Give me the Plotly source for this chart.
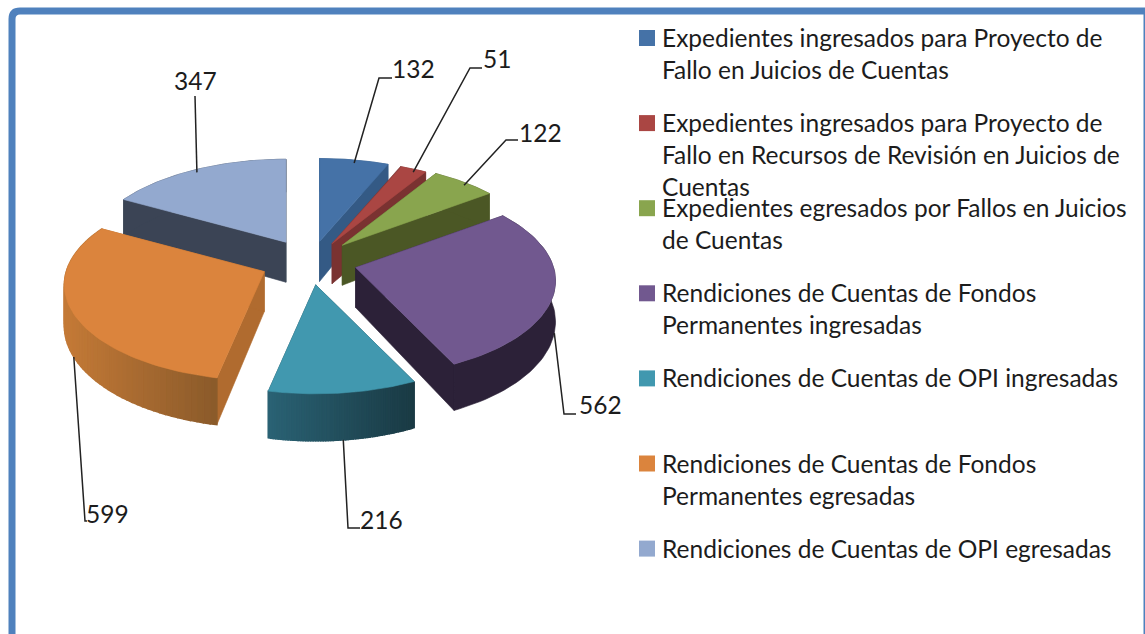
import math
import plotly.graph_objects as go

# ---- data ----
categories = [
    "Expedientes ingresados para Proyecto de<br>Fallo en Juicios de Cuentas",
    "Expedientes ingresados para Proyecto de<br>Fallo en Recursos de Revisión en Juicios de<br>Cuentas",
    "Expedientes egresados por Fallos en Juicios<br>de Cuentas",
    "Rendiciones de Cuentas de Fondos<br>Permanentes ingresadas",
    "Rendiciones de Cuentas de OPI ingresadas",
    "Rendiciones de Cuentas de Fondos<br>Permanentes egresadas",
    "Rendiciones de Cuentas de OPI egresadas",
]
values = [132, 51, 122, 562, 216, 599, 347]

# ---- styles ----
top_colors = ["#4572A7", "#AA4643", "#89A54E", "#71588F", "#4198AF", "#DB843D", "#93A9CF"]
face_colors = ["#345A85", "#7A3231", "#4B5725", "#2C2138", "#1F4653", "#B06B2F", "#3B4455"]
rim_left = ["#345A85", "#7A3231", "#4B5725", "#2C2138", "#2A6274", "#C47A37", "#3B4455"]
rim_right = ["#345A85", "#7A3231", "#4B5725", "#2C2138", "#1A3A44", "#8A5A2A", "#3B4455"]
draw_order = [6, 0, 1, 2, 3, 5, 4]
FONT = "Lato"
TEXT = "#1c1c1c"
CX, CY = 310, 262       # pie centre on the page
EXP_X, EXP_Y = 47, 23   # explosion
apex_nudge = [(0, 2), (0, 2), (0, 0), (0, 0), (0, 0), (-3, 0), (0, 0)]
LEGEND_Y0, LEGEND_STEP, LINE_STEP = 38, 85.1, 32
leader_ends = [
    [(379, 78), (392, 78)], [(470, 68), (482, 68)], [(506, 140), (518, 140)],
    [(564, 414), (576, 414)], [(348, 528), (360, 528)], [(85, 521), (87, 521)],
    [(195, 96)],
]
label_pos = [(413, 68), (497, 58), (540, 132), (600, 404), (381, 519), (107, 513), (195, 80)]

total = sum(values)
starts, ends = [], []
acc = 0.0
for v in values:
    starts.append(acc / total * 2 * math.pi)
    acc += v
    ends.append(acc / total * 2 * math.pi)


def apex(i):
    m = (starts[i] + ends[i]) / 2
    return (CX + EXP_X * math.sin(m) + apex_nudge[i][0],
            CY - EXP_Y * math.cos(m) + apex_nudge[i][1])


def rim(i, t):
    ax, ay = apex(i)
    return (ax + (198 - 28 * math.cos(t)) * math.sin(t),
            ay - (96 - 13 * math.cos(t)) * math.cos(t))


def depth(t):
    return 40 - 7 * math.cos(t)


def arc(i, n=60):
    return [starts[i] + (ends[i] - starts[i]) * k / n for k in range(n + 1)]


def mix(c1, c2, f):
    a = [int(c1[j:j + 2], 16) for j in (1, 3, 5)]
    b = [int(c2[j:j + 2], 16) for j in (1, 3, 5)]
    return "rgb(%d,%d,%d)" % tuple(round(p + (q - p) * f) for p, q in zip(a, b))


fig = go.Figure()


def poly(pts, color, name=None, lw=0.6):
    xs = [p[0] for p in pts] + [pts[0][0]]
    ys = [p[1] for p in pts] + [pts[0][1]]
    fig.add_trace(go.Scatter(x=xs, y=ys, mode="lines", fill="toself", fillcolor=color,
                             line=dict(color=color, width=lw), hoverinfo="skip" if name is None else "text",
                             text=name, showlegend=False))


for i in draw_order:
    ax, ay = apex(i)
    for t in (starts[i], ends[i]):
        rx, ry = rim(i, t)
        poly([(ax, ay), (rx, ry), (rx, ry + depth(t)), (ax, ay + 40)], face_colors[i])
    ts = arc(i)
    if rim_left[i] == rim_right[i]:
        poly([rim(i, t) for t in ts] + [(rim(i, t)[0], rim(i, t)[1] + depth(t)) for t in reversed(ts)],
             rim_left[i])
    else:
        xmin = min(rim(i, t)[0] for t in ts)
        xmax = max(rim(i, t)[0] for t in ts)
        for a, b in zip(ts[:-1], ts[1:]):
            pa, pb = rim(i, a), rim(i, b)
            f = ((pa[0] + pb[0]) / 2 - xmin) / max(xmax - xmin, 1)
            poly([pa, pb, (pb[0], pb[1] + depth(b)), (pa[0], pa[1] + depth(a))],
                 mix(rim_left[i], rim_right[i], f), lw=1.5)
    poly([(ax, ay)] + [rim(i, t) for t in ts], top_colors[i],
         name="%s: %d" % (categories[i].replace("<br>", " "), values[i]))

annotations = []
for i, v in enumerate(values):
    m = (starts[i] + ends[i]) / 2
    x0, y0 = rim(i, m)
    y0 += depth(m) if math.cos(m) < 0 else 3
    pts = [(x0, y0)] + leader_ends[i]
    fig.add_trace(go.Scatter(x=[p[0] for p in pts], y=[p[1] for p in pts], mode="lines",
                             line=dict(color="#222222", width=1.5), hoverinfo="skip", showlegend=False))
    lx, ly = label_pos[i]
    annotations.append(dict(x=lx, y=ly, text=str(v), showarrow=False, xanchor="center", yanchor="middle",
                            font=dict(family=FONT, size=24.5, color=TEXT)))

# legend keys and text
fig.add_trace(go.Scatter(
    x=[647] * len(values), y=[LEGEND_Y0 + LEGEND_STEP * i for i in range(len(values))],
    mode="markers", marker=dict(symbol="square", size=16, color=top_colors, line=dict(width=0)),
    hoverinfo="skip", showlegend=False))
for i, label in enumerate(categories):
    for k, line in enumerate(label.split("<br>")):
        annotations.append(dict(x=660, y=LEGEND_Y0 + LEGEND_STEP * i + LINE_STEP * k - 0.5, text=line,
                                showarrow=False, xanchor="left", yanchor="middle",
                                font=dict(family=FONT, size=24.5, color=TEXT)))

frame = "M 12 640 L 12 19 Q 12 11 20 11 L 1147 11 L 1147 640"
fig.update_layout(
    width=1145, height=634, autosize=False, margin=dict(l=0, r=0, t=0, b=0),
    paper_bgcolor="white", plot_bgcolor="white", showlegend=False,
    xaxis=dict(range=[0, 1145], visible=False, fixedrange=True),
    yaxis=dict(range=[634, 0], visible=False, fixedrange=True),
    annotations=annotations,
    shapes=[dict(type="path", path=frame, line=dict(color="#4F81BD", width=7), layer="below")],
)
fig.write_html("out.html", config={"displayModeBar": False},
               post_script="document.body.style.margin='0';document.body.style.overflow='hidden';")
